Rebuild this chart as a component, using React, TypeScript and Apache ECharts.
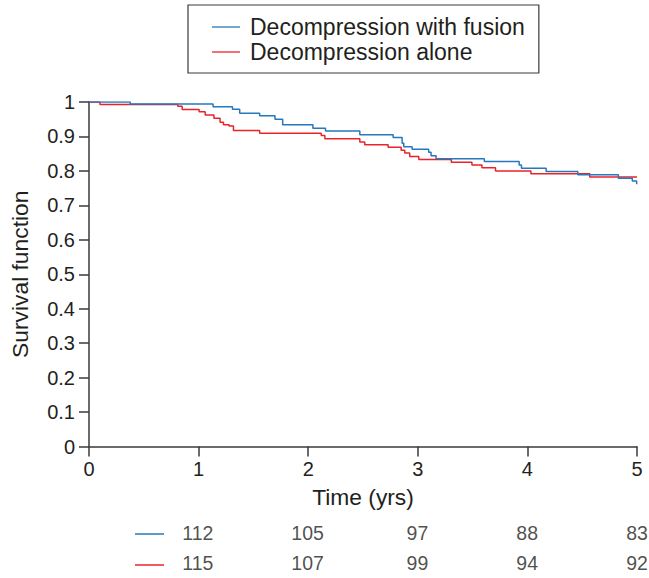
import React, { useEffect, useRef } from "react";
import * as echarts from "echarts";

const fusionTimes = [0, 0.376, 1.132, 1.309, 1.375, 1.557, 1.697, 1.767, 2.043, 2.158, 2.471, 2.775, 2.857, 2.872, 2.948, 3.099, 3.121, 3.167, 3.607, 3.925, 3.946, 4.171, 4.46, 4.83, 4.957, 4.997, 5.0];
const fusionSurv = [1.0, 0.994, 0.986, 0.979, 0.967, 0.96, 0.95, 0.934, 0.924, 0.916, 0.905, 0.897, 0.88, 0.87, 0.863, 0.854, 0.844, 0.835, 0.827, 0.817, 0.808, 0.798, 0.789, 0.779, 0.771, 0.761, 0.761];

const aloneTimes = [0, 0.1, 0.81, 0.85, 1.005, 1.06, 1.14, 1.196, 1.227, 1.278, 1.318, 1.557, 2.119, 2.152, 2.471, 2.516, 2.729, 2.848, 2.881, 2.926, 3.009, 3.306, 3.494, 3.585, 3.709, 4.032, 4.569, 5.0];
const aloneSurv = [1.0, 0.993, 0.988, 0.978, 0.972, 0.962, 0.953, 0.941, 0.934, 0.93, 0.917, 0.909, 0.903, 0.893, 0.884, 0.876, 0.869, 0.86, 0.852, 0.842, 0.833, 0.825, 0.817, 0.809, 0.8, 0.792, 0.782, 0.782];

const riskTimes = [1, 2, 3, 4, 5];
const riskFusion = [112, 105, 97, 88, 83];
const riskAlone = [115, 107, 99, 94, 92];

const seriesNames = ["Decompression with fusion", "Decompression alone"];
const BLUE = "#2677bd";
const RED = "#ec2229";
const FONT = "'Liberation Sans', Arial, sans-serif";
const TXT = "#231f20";
const AXIS = "#3a3a3a";

export default function App() {
  const ref = useRef<HTMLDivElement>(null);
  useEffect(() => {
    if (!ref.current) return;
    const chart = echarts.init(ref.current, undefined, { renderer: "svg" });
    const pairs = (ts: number[], vs: number[]) => ts.map((t, i) => [t, vs[i]]);
    const riskData = (vals: number[], row: number) => riskTimes.map((t, i) => [t, row, vals[i]]);
    chart.setOption({
      animation: false,
      textStyle: { fontFamily: FONT, color: TXT },
      legend: {
        left: 188,
        top: 5,
        orient: "vertical",
        data: seriesNames,
        icon: "rect",
        borderColor: AXIS,
        borderWidth: 1.2,
        padding: [10.5, 14, 9.5, 24],
        itemWidth: 28,
        itemHeight: 1.3,
        itemGap: 2,
        textStyle: { fontFamily: FONT, fontSize: 23, color: TXT, lineHeight: 23, padding: [0, 0, 0, 5] },
      },
      grid: [
        { left: 88, right: 12, top: 102, bottom: 131.5 },
        { left: 88, right: 12, top: 518.5, height: 62 },
      ],
      xAxis: [
        {
          type: "value",
          gridIndex: 0,
          min: 0,
          max: 5,
          interval: 1,
          name: "Time (yrs)",
          nameLocation: "middle",
          nameGap: 39,
          nameTextStyle: { fontFamily: FONT, fontSize: 22.8, color: TXT },
          axisLine: { show: true, lineStyle: { color: AXIS, width: 1.5 } },
          axisTick: { show: true, length: 10, lineStyle: { color: AXIS, width: 1.5 } },
          axisLabel: { fontFamily: FONT, fontSize: 20, color: TXT, margin: 12 },
          splitLine: { show: false },
        },
        { type: "value", gridIndex: 1, min: 0, max: 5, show: false },
      ],
      yAxis: [
        {
          type: "value",
          gridIndex: 0,
          min: 0,
          max: 1,
          interval: 0.1,
          name: "Survival function",
          nameLocation: "middle",
          nameGap: 58,
          nameTextStyle: { fontFamily: FONT, fontSize: 22.8, color: TXT },
          axisLine: { show: true, lineStyle: { color: AXIS, width: 1.5 } },
          axisTick: { show: true, length: 10, lineStyle: { color: AXIS, width: 1.5 } },
          axisLabel: { fontFamily: FONT, fontSize: 20, color: TXT, margin: 14 },
          splitLine: { show: false },
        },
        { type: "category", gridIndex: 1, data: seriesNames, inverse: true, show: false },
      ],
      series: [
        {
          name: seriesNames[0],
          type: "line",
          step: "end",
          xAxisIndex: 0,
          yAxisIndex: 0,
          symbol: "none",
          data: pairs(fusionTimes, fusionSurv),
          lineStyle: { color: BLUE, width: 1.5 },
          itemStyle: { color: BLUE },
          z: 3,
        },
        {
          name: seriesNames[1],
          type: "line",
          step: "end",
          xAxisIndex: 0,
          yAxisIndex: 0,
          symbol: "none",
          data: pairs(aloneTimes, aloneSurv),
          lineStyle: { color: RED, width: 1.5 },
          itemStyle: { color: RED },
          z: 2,
        },
        ...[riskFusion, riskAlone].map((vals, row) => ({
          type: "scatter",
          xAxisIndex: 1,
          yAxisIndex: 1,
          symbolSize: 1,
          itemStyle: { color: "rgba(0,0,0,0)" },
          data: riskData(vals, row),
          label: {
            show: true,
            position: "inside",
            formatter: (p: any) => String(p.value[2]),
            fontFamily: FONT,
            fontSize: 19.5,
            color: TXT,
          },
          silent: true,
        })),
      ],
      graphic: [
        { type: "line", shape: { x1: 135, y1: 534, x2: 164, y2: 534 }, style: { stroke: BLUE, lineWidth: 1.5 } },
        { type: "line", shape: { x1: 135, y1: 565, x2: 164, y2: 565 }, style: { stroke: RED, lineWidth: 1.5 } },
      ],
    });
    return () => chart.dispose();
  }, []);
  return <div ref={ref} style={{ width: 649, height: 578, position: "absolute", left: 0, top: 0 }} />;
}
